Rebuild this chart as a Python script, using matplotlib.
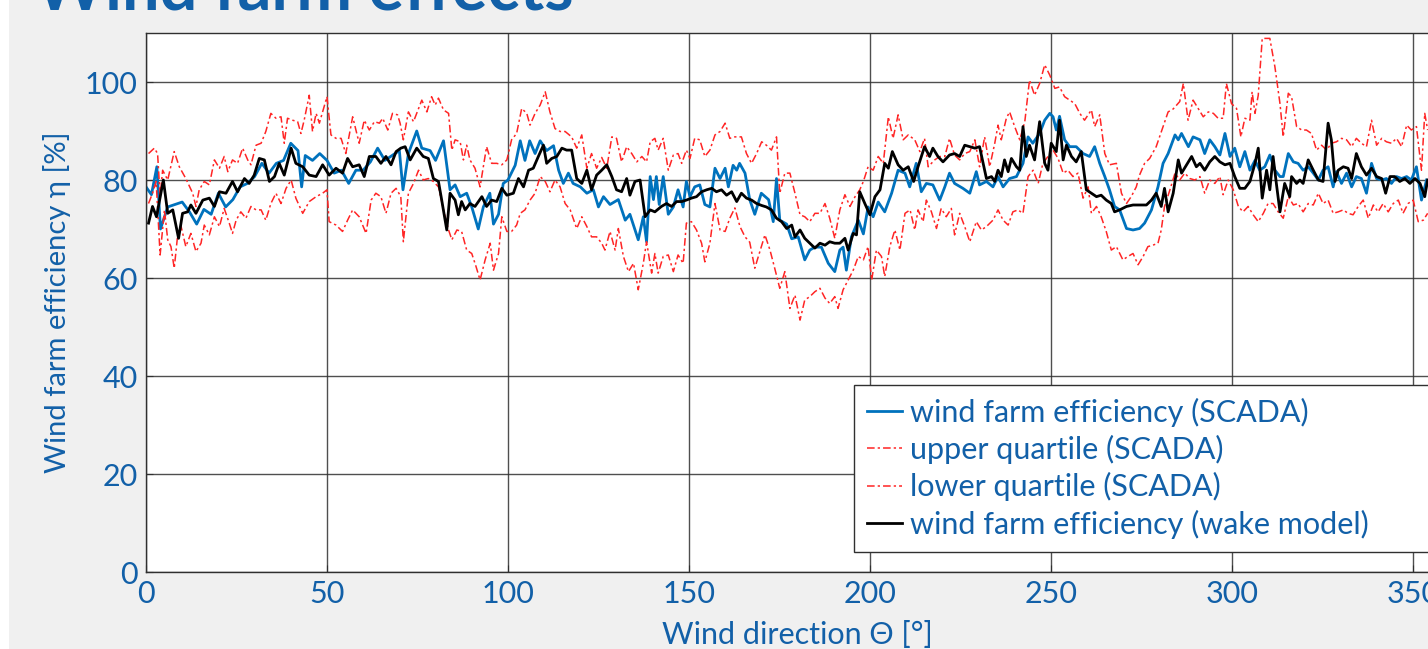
import numpy as np
import matplotlib.pyplot as plt
from matplotlib.patches import Rectangle

# wind farm efficiency from SCADA (deg, %)
scada_deg = [0, 1.5, 3, 4, 6, 8, 10, 12, 14, 16, 18, 20, 22, 24, 26, 28, 30, 32, 34, 36, 38, 40, 42, 43, 44, 46, 48, 50, 52, 54, 56, 58, 60, 62, 64, 66, 68, 70, 71, 72.5, 74.8, 76.2, 78.5, 80, 82.2, 84, 85.4, 86.8, 88.6, 90, 91.8, 93.2, 95, 96, 97.4, 98.7, 100, 102, 103.4, 104.7, 106, 107.5, 108.9, 110.7, 112.6, 114, 115.3, 116.7, 118, 120, 121.8, 123.6, 125, 126.4, 128.2, 130.5, 132.4, 133.7, 136, 137.4, 138.3, 139.3, 140.2, 141, 141.8, 142.9, 144.3, 145.7, 147, 148.4, 149.3, 150.3, 151.6, 153, 154.4, 155.8, 157.2, 158.6, 160, 160.9, 162.2, 163.2, 164, 165.5, 166.8, 168.2, 170, 172, 173.3, 174.2, 175.1, 177, 178.4, 180.2, 182, 183.4, 184.8, 186.6, 188.5, 190.3, 191.7, 192.6, 193.5, 194.9, 196.8, 198.2, 199.5, 200.9, 202.3, 204.1, 206, 207.8, 209.7, 211, 212.8, 214.2, 215.6, 217.4, 219.3, 220.7, 222, 223.4, 225.7, 227.6, 229.4, 230.3, 232.2, 234, 235.4, 236.8, 238.6, 240.5, 242.3, 243.7, 245, 246.9, 248.3, 249.7, 250.6, 251.5, 252.4, 253.8, 255.2, 257, 258.9, 260.7, 262.1, 263.5, 264.9, 266.2, 267.6, 269, 270.9, 272.7, 274.5, 275.9, 277.8, 279.6, 281, 282.4, 284.3, 285.2, 286.1, 288, 289.3, 291.2, 292.5, 293.9, 295.3, 296.7, 298.1, 299.5, 300.8, 302.2, 303.6, 305, 306.4, 307.7, 309.1, 310.5, 311.9, 313.3, 314.2, 315.6, 317, 318.3, 319.7, 321.1, 322.5, 323.9, 325.2, 326.6, 328, 328.9, 330.3, 331.7, 333.1, 334.4, 335.8, 337.2, 338.6, 340, 341.4, 342.7, 344.1, 345.5, 346.9, 348.3, 349.6, 351, 352.4, 353.8]
scada_eff = [78.6, 77, 82.7, 70, 74.5, 75, 75.5, 73.5, 71, 74, 73, 77.3, 74.5, 76, 78.6, 79.3, 80.7, 83.4, 81.4, 83.4, 84, 87.5, 86, 78.6, 85, 84, 85.4, 84, 81.4, 82, 79.3, 82, 82, 83.7, 86.5, 84, 85, 86, 78, 85.4, 90, 86.5, 86, 84, 88, 78, 79, 76.6, 77.3, 74.5, 70, 74.5, 77.3, 71, 73, 79.3, 80, 83, 88, 84, 88, 85.4, 88, 86, 87, 82, 79.3, 81.4, 79.3, 78.6, 77.3, 78, 74.5, 76.6, 75, 76, 71.8, 73, 67.8, 72.5, 67.4, 80.7, 76, 80.7, 75, 80.7, 73, 74.5, 78, 74.5, 79.7, 76.6, 78.6, 79, 75, 74.5, 82.4, 80.3, 82.4, 78.6, 83, 82, 83.4, 81.4, 76, 73, 77.3, 76, 71.5, 80.3, 71.8, 71, 68, 68.4, 63.7, 65.7, 66.3, 66.3, 63, 61.3, 65.7, 66.3, 61.6, 68.4, 71.8, 69, 74.5, 72.5, 75.5, 73.5, 77.3, 82, 81.4, 78.6, 83.4, 77.6, 79.3, 79, 75.9, 78.6, 81.4, 79.3, 78.3, 77.3, 81.7, 79, 79.7, 78.6, 80.7, 78.6, 80.3, 80.7, 83.4, 88.8, 87.5, 89.5, 92.2, 93.6, 92.9, 90.2, 93, 88.2, 86.8, 86.8, 85.4, 84.8, 86.8, 83.4, 80.7, 78, 74.6, 73.9, 70.1, 69.8, 70.1, 71.2, 73.9, 78.6, 83.4, 85.4, 89.2, 88.2, 89.5, 86.8, 88.8, 88.2, 85.4, 88.2, 86.8, 85.1, 89.5, 84.8, 86.5, 82.7, 85.8, 82, 84, 82, 82.7, 85.1, 82, 80.7, 80.7, 85.4, 83.7, 83.4, 82, 82.7, 81.4, 80, 82, 82.7, 78.6, 81.7, 79.3, 81.4, 78.6, 80.7, 80.3, 77.3, 83.4, 80.3, 80, 80.3, 79.3, 80.7, 80.3, 80.7, 80, 82.7, 75.9, 80]

# upper quartile (SCADA)
upper_deg = [0.7, 2.3, 3.2, 3.9, 4.6, 6, 7.8, 9.2, 11, 12.9, 13.8, 14.7, 16.1, 17.5, 18.9, 20.3, 21.6, 22.6, 23.9, 25.3, 26.7, 28.1, 29, 30.4, 31.8, 33.1, 34.5, 35.9, 37.3, 38.2, 39.1, 40.5, 41.9, 42.8, 43.7, 45.1, 46, 47, 47.9, 48.8, 50, 51.1, 52.5, 53.9, 55.2, 57.1, 58.9, 60.3, 61.7, 63.1, 64.5, 65.4, 66.8, 68.1, 69.5, 70.2, 71.1, 72.5, 73.9, 75.3, 76.2, 77.6, 78.9, 79.9, 80.8, 82.2, 83.6, 84.5, 85.4, 86.8, 87.7, 88.6, 89.5, 90.9, 92.3, 94.1, 95.5, 96.9, 98.3, 99.7, 101, 102.4, 103.8, 105.2, 106.1, 107.5, 108.9, 110.3, 111.6, 113, 114.4, 115.8, 117.6, 119, 120.4, 121.8, 123.1, 124.5, 125.9, 127.3, 128.7, 130, 131.4, 132.8, 134.2, 135.6, 137, 138.3, 139.3, 140.6, 141.5, 142.9, 144.3, 145.7, 147, 148, 149.3, 150.3, 151.6, 153, 154.4, 155.8, 157.2, 158.6, 160, 161.3, 162.7, 164.5, 165.9, 167.3, 168.7, 170.1, 171.4, 172.8, 174.2, 175.1, 176.5, 177.9, 179.3, 180.7, 182, 183.4, 184.8, 186.2, 187.6, 188.9, 190.3, 191.7, 193.1, 194.5, 195.9, 197.2, 198.2, 199.5, 200.9, 202.3, 203.7, 205.1, 206.4, 207.8, 209.2, 210.6, 212.4, 213.8, 215.1, 216.1, 217.9, 219.3, 220.7, 222, 223.4, 224.8, 226.2, 227.6, 229, 230.3, 231.7, 233.1, 234.5, 235.4, 236.3, 237.7, 238.6, 240, 241.4, 242.8, 244.1, 245.5, 246.9, 248.3, 249.7, 251.1, 252.4, 253.8, 255.2, 256.6, 258, 259.3, 261.2, 262.1, 263.5, 264.9, 266.2, 268.1, 269.5, 270.9, 272.2, 273.6, 274.5, 275.9, 277.3, 279.1, 281, 282.4, 283.8, 285.6, 286.6, 287.9, 289.3, 290.7, 292.1, 293.5, 294.9, 296.2, 297.6, 298.5, 299.9, 301.3, 302.5, 303.6, 305, 305.6, 306.4, 307.3, 308.4, 310.5, 311.9, 313.3, 314.2, 315.6, 316.5, 317.9, 319.3, 320.6, 322, 323.4, 324.8, 326.2, 327.5, 328.9, 330.3, 331.7, 333.1, 334.4, 335.8, 337.2, 338.6, 340, 341.4, 342.7, 344.1, 345.5, 346.9, 348.3, 349.6, 351, 352.4, 353.3, 354.1]
upper_eff = [85.4, 86.5, 85.4, 76.6, 82, 80, 85.8, 82.7, 80.3, 77.3, 74.6, 78, 79.7, 79, 84.1, 82.4, 84.8, 81.7, 84.1, 83.4, 86.5, 84.1, 83.1, 87.1, 87.5, 89.9, 93.6, 92.6, 92.9, 87.5, 92.6, 92.2, 91.9, 89.5, 92.2, 97.3, 89.9, 93.6, 91.6, 93.9, 97, 89.2, 88.5, 88.5, 85.4, 92.9, 87.5, 92.2, 90.2, 91.9, 91.6, 92.6, 90.2, 93.6, 93.3, 91.6, 88.2, 93.9, 91.9, 94.6, 96.3, 93.9, 97, 95.3, 96.7, 94.3, 93.6, 86.1, 88.2, 87.8, 84.1, 87.1, 84.1, 82.4, 78.6, 86.8, 83.4, 83.4, 83.1, 84.1, 88.2, 89.5, 94.6, 93.6, 91.2, 93.6, 95.3, 98, 93.9, 90.5, 89.9, 89.9, 88.8, 86.5, 89.2, 82.4, 85.4, 82.4, 84.6, 82.4, 88.8, 88.5, 83.7, 86.8, 85.4, 83.7, 84.8, 83.7, 87.8, 88.5, 86.1, 88.5, 82, 85.1, 85.4, 83.4, 86.1, 84.4, 88.5, 88.2, 84.8, 86.1, 89.2, 89.9, 91.6, 88.5, 88.8, 88.8, 85.4, 83.4, 85.4, 87.8, 87.1, 86.1, 88.8, 77.3, 81.4, 81.4, 77.3, 72.9, 72.5, 71.5, 73.2, 73.2, 75.2, 72.2, 68.1, 73.9, 77, 74.6, 76.6, 78, 79.7, 82.7, 82, 84.8, 83.4, 92.9, 88.5, 93.3, 88.2, 89.2, 88.2, 85.8, 88.5, 82.7, 84.1, 84.8, 84.8, 88.5, 85.1, 84.1, 85.4, 85.8, 88.2, 82.7, 88.8, 82.7, 87.5, 91.2, 88.2, 92.6, 93.9, 90.9, 88.2, 91.9, 100.4, 97.3, 99.7, 103.5, 101.4, 98.7, 99, 97, 96.3, 95.6, 93.6, 92.2, 94.3, 90.9, 93.3, 85.4, 83.1, 83.4, 77.3, 75.2, 76.6, 78.6, 81, 83.4, 84.4, 86.8, 90.9, 93.9, 94.5, 96, 99.7, 92.2, 96.3, 94.6, 92.9, 93.9, 93.6, 92.6, 92.6, 99.7, 95.6, 94.6, 88.8, 92.6, 92.2, 98, 93.6, 97.3, 108.9, 108.9, 103.1, 95.6, 88.8, 97.7, 97, 90.9, 90.2, 90.2, 89.5, 86.1, 87.1, 86.1, 87.5, 87.8, 88.5, 88.2, 86.8, 88.5, 87.5, 86.8, 92.2, 87.1, 88.5, 87.8, 87.5, 88.5, 86.8, 91.2, 90.2, 90.9, 82, 93.6, 90.2]

# lower quartile (SCADA)
lower_deg = [0.7, 1.8, 2.8, 3.9, 5.1, 6, 6.9, 7.8, 8.7, 9.7, 11, 12.4, 13.8, 15.2, 16.1, 17.5, 18.9, 20.3, 21.6, 23, 23.9, 24.9, 26.2, 27.6, 29, 30.4, 31.8, 33.1, 34.5, 35.9, 37.3, 38.7, 40.1, 41.4, 43.3, 45.1, 47, 48.8, 50, 50.6, 52.5, 54.3, 55.7, 57.1, 58.9, 60.8, 62.2, 63.5, 64.9, 66.3, 67.7, 69.1, 70.4, 71.1, 72.5, 73.9, 75.3, 76.6, 78, 79.4, 80.8, 82.2, 83.6, 84.5, 85.9, 87.2, 88.6, 90, 91.2, 92.3, 93.7, 95.1, 96, 97.4, 98.3, 99.7, 101, 102.4, 103.4, 104.7, 106.1, 107.5, 108.9, 110.3, 111.6, 113, 114.4, 115.8, 117.2, 119, 120.4, 121.8, 123.1, 124.5, 125.9, 126.8, 128.2, 129.6, 130.5, 131.9, 133.3, 134.7, 136, 137.4, 138.3, 139.7, 140.6, 141.5, 142.9, 144.3, 145.7, 147, 148.4, 149.3, 150.7, 152.1, 153.5, 154.4, 155.8, 157.2, 158.6, 160, 161.3, 162.7, 164.1, 165.5, 166.8, 168.2, 169.6, 171, 172.4, 173.7, 175.1, 176.5, 177.9, 179.3, 180.7, 182, 183.4, 184.8, 186.2, 187.6, 188.9, 190.3, 191.2, 192.6, 194, 195.4, 196.8, 198.2, 199.5, 200.5, 201.8, 203.2, 204.1, 205.5, 206.9, 208.3, 209.7, 211.1, 212.4, 213.3, 214.7, 215.6, 217, 218.4, 219.7, 221.1, 222.5, 223.4, 224.8, 226.2, 227.6, 229.4, 230.8, 232.2, 234, 235.4, 236.8, 238.2, 239.5, 240.9, 242.3, 243.7, 245.1, 246.5, 247.8, 249.2, 250.6, 252, 253.4, 254.7, 256.1, 257.5, 258.9, 260.3, 261.2, 262.6, 263.9, 265.3, 266.7, 268.1, 269.9, 271.3, 272.7, 274.1, 275.5, 276.8, 278.2, 279.6, 280.5, 281.4, 282.9, 284.3, 285.6, 287, 288.4, 289.8, 291.2, 292.5, 293.9, 295.3, 296.7, 297.6, 299, 300.4, 301.8, 303.1, 304.5, 305.9, 307.3, 308.7, 310, 311.4, 312.8, 314.2, 315.6, 317, 318.3, 319.7, 321.1, 322.5, 323.9, 325.2, 326.6, 328, 329.4, 330.8, 332.1, 333.5, 334.9, 336.3, 337.7, 339.1, 340.4, 341.8, 343.2, 344.6, 346, 347.3, 348.7, 350.1, 351.5, 352.9, 354.1]
lower_eff = [75.2, 77.3, 79.7, 64.7, 73.9, 67.8, 66.4, 62, 68.4, 70.5, 66.4, 69.1, 65.4, 67.1, 70.8, 68.8, 72.5, 70.5, 74.2, 71.2, 69.1, 71.8, 73.5, 72.2, 74.6, 73.9, 73.9, 71.8, 75.2, 77.3, 75.2, 78.3, 80, 76.3, 73.2, 75.6, 76.6, 77.3, 78, 71.5, 70.8, 69.5, 71.8, 73.9, 72.5, 69.1, 75.9, 77.3, 76.6, 73.2, 77.3, 78.3, 76.6, 67.4, 77.3, 79.3, 82, 80, 80.3, 79.7, 78.6, 73.9, 69.8, 67.8, 69.8, 69.5, 65.7, 65, 62.3, 59.6, 63.7, 67.1, 61.6, 65, 72.5, 69.5, 69.5, 70.8, 73.2, 73.9, 75.9, 77.3, 80.7, 79.7, 77.6, 80, 78.6, 75.2, 73.9, 70.1, 72.5, 70.5, 68.4, 68.4, 67.1, 65.7, 69.5, 65.7, 70.1, 64.4, 61.3, 63, 57.6, 63, 67.4, 61, 65, 61, 64.4, 64.7, 61.3, 64.7, 63, 71.2, 71.5, 69.8, 67.1, 63.3, 67.1, 75.2, 69.8, 69.5, 72.2, 74.3, 70.5, 68.4, 67.3, 62, 65.4, 68.8, 65.7, 62, 57.9, 61.3, 53.8, 56.5, 51.4, 55.5, 56.2, 57.2, 57.9, 55.9, 54.8, 56.2, 53.8, 57.6, 59.6, 61.6, 64.4, 63.7, 66.4, 59.6, 65.7, 64.4, 60.3, 66.4, 69.8, 65.7, 73.2, 73.9, 69.8, 73.9, 71.5, 75.9, 73.5, 70.1, 74.2, 72.5, 74.2, 68.8, 73.2, 70.5, 67.4, 71.5, 69.8, 70.5, 71.8, 73.9, 71.8, 70.8, 73.5, 73.9, 73.2, 80.7, 82, 79.3, 83.4, 84.8, 86.1, 84.4, 81.4, 82, 80.7, 81.4, 76.3, 78.6, 73.2, 74.6, 72.5, 69.5, 65.7, 66.4, 63.7, 64.4, 65, 62.7, 64.4, 66.4, 66.7, 67.1, 69.8, 74.6, 78, 81.4, 80, 81.4, 80.3, 80, 80.7, 77.3, 80, 79.3, 80.7, 77, 80, 78, 74.6, 73.5, 74.6, 72.9, 71.5, 73.2, 75.2, 75.2, 73.5, 72.2, 76.6, 74.9, 75.2, 73.5, 75.2, 74.9, 77.3, 75.2, 75.9, 73.2, 73.5, 73.9, 73.2, 72.9, 74.6, 75.9, 72.2, 74.9, 73.5, 75.2, 73.5, 75.2, 75.9, 73.2, 75.2, 75.9, 71.5, 71.8, 73.2]

# wind farm efficiency from the wake model
wake_deg = [0.7, 1.8, 2.9, 4.8, 6, 7.4, 9, 10.1, 11.5, 12.4, 13.8, 15.7, 17.5, 18.9, 20.3, 22.1, 23.9, 25.3, 27.2, 28.5, 29.9, 31.3, 32.7, 34.1, 35.5, 36.8, 38.2, 40.1, 41.4, 43.3, 45.1, 47, 48.8, 50.6, 52.5, 54.3, 55.7, 57.1, 58.9, 60.3, 61.7, 63.5, 64.9, 66.3, 67.7, 69.1, 70.4, 71.6, 73, 74.8, 76.6, 78, 79.4, 80.8, 81.7, 83.1, 84, 85.4, 86.3, 87.2, 88.2, 89.5, 90.9, 92.8, 94.1, 95.5, 96.9, 98.3, 99.7, 101.5, 102.9, 104.3, 105.7, 107, 108.4, 109.8, 110.7, 112.1, 113.5, 114.9, 116.2, 117.6, 119, 120.4, 121.8, 123.1, 124.5, 125.9, 127.3, 128.7, 130, 131.4, 132.8, 133.7, 135.1, 136.5, 137.9, 139.3, 140.6, 142.4, 143.8, 145.2, 146.6, 148, 149.3, 150.7, 152.1, 153.5, 154.9, 156.3, 157.6, 159, 160.4, 161.8, 163.2, 164.5, 165.9, 167.3, 168.7, 170.1, 171.4, 172.8, 174.2, 175.6, 177, 178.4, 179.3, 180.7, 182, 183.4, 184.8, 186.2, 187.6, 188.9, 190.3, 191.7, 193.1, 194, 195.4, 196.3, 197.2, 198.6, 200, 201.4, 202.8, 204.1, 205.1, 206.2, 207.8, 209.2, 210.6, 212.1, 213.3, 215.1, 216.5, 217.4, 218.8, 220.2, 222, 223.4, 224.8, 226.2, 227.6, 229, 230.3, 231.3, 232.2, 233.6, 234.5, 235.4, 236.3, 237.2, 238.2, 239.1, 240.5, 241.4, 242.3, 243.2, 244.1, 245.5, 246.9, 248.3, 249.2, 250.1, 251.5, 252.4, 253.4, 254.3, 255.7, 257, 258.4, 259.8, 261.2, 262.6, 263.9, 265.3, 266.7, 267.6, 269, 270.9, 272.7, 274.5, 276.4, 277.8, 279.1, 280.5, 281.4, 282.4, 283.8, 285.2, 286.1, 287.5, 288.9, 290.2, 291.2, 292.5, 293.9, 295.3, 296.7, 298.1, 299.5, 300.8, 302.2, 303.6, 305, 306.4, 307.3, 308.4, 309.6, 310.5, 311.4, 312.3, 313.3, 314.6, 316, 316.5, 317.9, 318.8, 319.7, 321.1, 322.5, 323.9, 325.2, 326.6, 327.5, 328.5, 329.4, 330.8, 332.1, 333.1, 334.4, 335.8, 337.2, 338.6, 340, 341.4, 342.5, 343.7, 345, 346.4, 347.8, 349.2, 350.6, 352, 353.3, 354.1]
wake_eff = [71.2, 74.6, 72.5, 80, 73.2, 73.9, 68.1, 73.2, 73.5, 74.9, 73.2, 75.9, 76.3, 74.6, 77.6, 77.3, 79.7, 77.6, 80.3, 79.3, 81, 84.4, 84.1, 79.7, 80.7, 83.4, 81, 86.5, 83.4, 82.7, 81, 80.7, 83.1, 81, 82.4, 81.4, 84.4, 82.7, 83.1, 80.7, 84.8, 84.8, 83.4, 84.8, 83.1, 85.8, 86.5, 86.8, 84.1, 86.5, 84.8, 84.4, 80.3, 79.7, 75.9, 69.8, 77.3, 75.9, 72.9, 75.6, 73.9, 75.2, 74.6, 76.6, 74.6, 75.9, 75.6, 78.3, 76.9, 77.3, 80.3, 78.6, 82, 82.4, 84.8, 87.1, 83.4, 84.4, 84.8, 86.5, 86.1, 86.1, 80.3, 79.3, 82, 78, 81, 82, 83.1, 80.7, 78, 77.6, 80.3, 76.9, 79.7, 80, 72.5, 73.9, 73.5, 74.6, 75.2, 74.6, 75.6, 75.6, 75.9, 76.3, 76.6, 77.6, 78, 78.3, 77.6, 78, 76.9, 77.6, 75.6, 77.3, 76.3, 75.9, 75.2, 74.8, 74.5, 73.9, 72.2, 71.5, 70.1, 70.8, 68.4, 69.8, 68.1, 67.1, 66.1, 67.1, 66.7, 67.4, 67.1, 67.1, 68.1, 65.7, 69.1, 68.8, 77.6, 75.2, 72.9, 76.6, 78, 83.4, 82.4, 85.8, 83.1, 82, 82.7, 79.7, 82.7, 86.8, 84.8, 86.5, 84.8, 83.7, 85.1, 85.4, 84.8, 87.1, 86.8, 86.5, 86.8, 83.4, 80.3, 80.7, 79.7, 82, 80.7, 84.1, 81.7, 84.4, 82.7, 82, 90.9, 84.8, 87.1, 84.1, 91.9, 83.4, 82, 87.5, 85.8, 92.2, 84.1, 87.1, 84.8, 83.7, 85.8, 78, 77.3, 76.6, 76.9, 75.9, 75.2, 73.5, 73.9, 74.6, 74.9, 74.9, 74.9, 75.9, 77.3, 74.6, 78.3, 73.5, 77.3, 84.1, 81.4, 83.1, 84.8, 82.7, 83.4, 82, 83.7, 84.8, 83.7, 83.1, 83.4, 80.7, 78.3, 78.3, 79.7, 83.4, 86.5, 76.3, 82, 78, 84.8, 79.3, 73.5, 79.3, 76.6, 80.7, 79.3, 80, 79.3, 84.1, 82, 80, 79.7, 91.6, 88.2, 79.7, 82, 82.7, 82.4, 80.3, 85.4, 82.7, 81, 82.4, 80.7, 80.3, 77.3, 80.7, 80.7, 79.7, 80.3, 79.3, 80.3, 79.3, 76.6, 80]

x_ticks = [0, 50, 100, 150, 200, 250, 300, 350]
y_ticks = [0, 20, 40, 60, 80, 100]

text_blue = '#1260a8'
font = ['Lato', 'DejaVu Sans']

fig = plt.figure(figsize=(14.28, 6.49), dpi=100, facecolor='#f0f0f0')
fig.patches.append(Rectangle((0, 0), 9 / 1428, 1, transform=fig.transFigure,
                             facecolor='white', edgecolor='none', zorder=-1))

fig.text(35 / 1428, 1 - 9 / 649, 'Wind farm effects', family=font, fontsize=48,
         fontweight='bold', color=text_blue, va='baseline', ha='left')

ax = fig.add_axes([146 / 1428, 77 / 649, 1303 / 1428, 539 / 649])
ax.set_facecolor('white')

ax.plot(scada_deg, scada_eff, color='#0072bd', lw=2.0, label='wind farm efficiency (SCADA)')
ax.plot(upper_deg, upper_eff, color='#ff2525', lw=1.1, dashes=(5, 2, 1.5, 2),
        label='upper quartile (SCADA)')
ax.plot(lower_deg, lower_eff, color='#ff2525', lw=1.1, dashes=(5, 2, 1.5, 2),
        label='lower quartile (SCADA)')
ax.plot(wake_deg, wake_eff, color='black', lw=2.0, label='wind farm efficiency (wake model)')

ax.set_xlim(0, 360)
ax.set_ylim(0, 110)
ax.set_xticks(x_ticks)
ax.set_yticks(y_ticks)
ax.grid(True, color='#303030', lw=1.0, alpha=0.85)
ax.set_axisbelow(True)
ax.tick_params(direction='in', length=5, colors='#303030', labelcolor=text_blue,
               labelsize=22, pad=6)
for lab in ax.get_xticklabels() + ax.get_yticklabels():
    lab.set_family(font)
for sp in ax.spines.values():
    sp.set_color('#303030')
    sp.set_linewidth(1.0)

ax.set_xlabel('Wind direction Θ [°]', family=font, fontsize=22, color=text_blue, labelpad=9)
ax.set_ylabel('Wind farm efficiency η [%]', family=font, fontsize=21, color=text_blue, labelpad=10)

# legend box runs past the right edge of the figure, as in the slide
ax.add_patch(Rectangle((0.5434, 0.0371), 0.6, 0.31, transform=ax.transAxes, clip_on=False,
                       facecolor='white', edgecolor='#303030', lw=1.0, zorder=4))
leg = ax.legend(loc='upper left', bbox_to_anchor=(0.5533, 0.3235), frameon=False,
                handlelength=1.15, handletextpad=0.25, borderpad=0, labelspacing=0.27,
                borderaxespad=0, prop={'family': font, 'size': 22})
leg.set_zorder(5)
for t in leg.get_texts():
    t.set_color(text_blue)

fig.savefig('out.png', dpi=100, facecolor=fig.get_facecolor())
